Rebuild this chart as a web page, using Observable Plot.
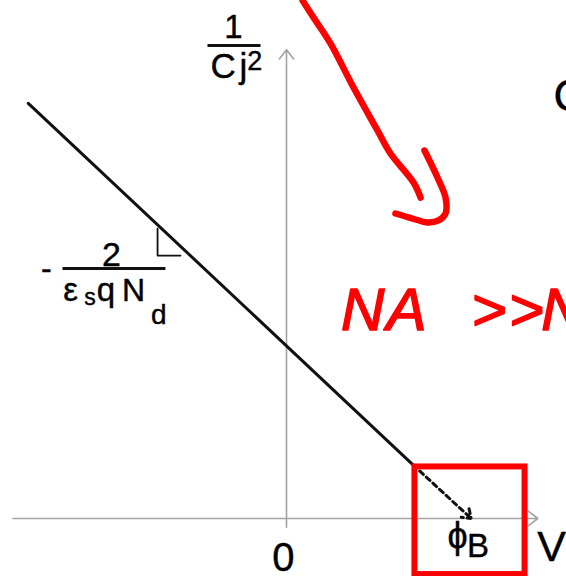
<!DOCTYPE html>
<html>
<head>
<meta charset="utf-8">
<script src="https://cdn.jsdelivr.net/npm/d3@7"></script>
<script src="https://cdn.jsdelivr.net/npm/@observablehq/plot@0.6"></script>
<style>
  html, body { margin: 0; padding: 0; background: #fff; overflow: hidden; }
</style>
</head>
<body>
<div id="chart"></div>
<script>
// 1/Cj² versus applied bias V for a Schottky diode (units: V in φB, 1/Cj² normalised to its V = 0 value)

// Straight-line part of 1/Cj²(V) (measured region)
const solidV = [-1.51, 0.74];
const solidY = [2.40, 0.31];
// Extrapolation down to the V axis, intercept at the barrier voltage
const dashV = [0.74, 1.08];
const dashY = [0.31, 0.0];

// Axes (with arrowheads)
const axisV = [-1.60, 1.47];
const axisY = [-0.05, 2.71];

// Slope marker drawn under the line
const slopeV = [-0.754, -0.754, -0.620];
const slopeY = [1.676, 1.520, 1.520];

// Fraction bars of the two formula labels
const barsX1 = [-0.462, -1.310];
const barsX2 = [-0.152, -0.708];
const barsY = [2.734, 1.445];

// Text labels: text, V, 1/Cj² (baseline), size, anchor
const labelText = ["1", "C", "j", "2", "-", "2", "ε", "s", "q", "N", "d", "0", "ϕ", "B", "V", "C"];
const labelV    = [-0.310, -0.445, -0.275, -0.230, -1.404, -1.023, -1.306, -1.183, -1.109, -0.962, -0.792, -0.018, 1.000, 1.056, 1.466, 1.561];
const labelY    = [2.775, 2.549, 2.549, 2.590, 1.387, 1.462, 1.260, 1.232, 1.260, 1.260, 1.127, -0.306, -0.173, -0.225, -0.243, 2.358];
const labelSize = [33, 35, 35, 27, 32, 34, 33, 23, 33, 32, 28, 40, 36, 33, 43, 44];
const labelAnchor = ["middle", "start", "start", "start", "middle", "middle", "start", "start", "start", "start", "start", "middle", "middle", "start", "start", "start"];

// Hand-drawn red annotations
const redArrowV = [0.094, 0.158, 0.257, 0.392, 0.532, 0.608, 0.743, 0.784];
const redArrowY = [2.994, 2.896, 2.746, 2.491, 2.243, 2.110, 1.942, 1.855];
const redHookV = [0.807, 0.883, 0.930, 0.930, 0.889, 0.825, 0.737, 0.637];
const redHookY = [2.127, 1.971, 1.855, 1.763, 1.723, 1.711, 1.734, 1.763];
const redBox = {x1: 0.751, x2: 1.395, y1: -0.324, y2: 0.298};
const noteChars = ["N", "A", ">", ">", "N"];
const noteV = [0.318, 0.585, 1.080, 1.300, 1.490];
const noteY = 1.087;

const pts = (xs, ys) => xs.map((x, i) => ({x, y: ys[i]}));

const labels = labelText.map((t, i) => ({
  t, x: labelV[i], y: labelY[i], size: labelSize[i], anchor: labelAnchor[i]
}));

const font = "'Liberation Sans', Arial, sans-serif";
const textMarks = labels.map(d => Plot.text([d], {
  x: "x", y: "y", text: "t",
  fontSize: d.size, textAnchor: d.anchor, lineAnchor: "bottom",
  fontFamily: font, fill: "#000", stroke: "#000", strokeWidth: 0.4
}));

const plot = Plot.plot({
  width: 566,
  height: 576,
  margin: 0,
  x: {domain: [-286 / 171, 280 / 171], axis: null},
  y: {domain: [-58 / 173, 518 / 173], axis: null},
  style: {background: "#fff"},
  marks: [
    // axes
    Plot.arrow([{x1: axisV[0], x2: axisV[1], y1: 0, y2: 0}], {
      x1: "x1", x2: "x2", y1: "y1", y2: "y2",
      stroke: "#a4a4a4", strokeWidth: 1.6, headLength: 11, headAngle: 75
    }),
    Plot.arrow([{x1: 0, x2: 0, y1: axisY[0], y2: axisY[1]}], {
      x1: "x1", x2: "x2", y1: "y1", y2: "y2",
      stroke: "#a4a4a4", strokeWidth: 1.6, headLength: 11, headAngle: 75
    }),
    // characteristic
    Plot.line(pts(solidV, solidY), {x: "x", y: "y", stroke: "#111", strokeWidth: 3}),
    Plot.arrow([{x1: dashV[0], y1: dashY[0], x2: dashV[1], y2: dashY[1]}], {
      x1: "x1", y1: "y1", x2: "x2", y2: "y2",
      stroke: "#111", strokeWidth: 3, strokeDasharray: "5,4", headLength: 5, headAngle: 70
    }),
    Plot.line(pts(slopeV, slopeY), {x: "x", y: "y", stroke: "#111", strokeWidth: 1.8}),
    // fraction bars
    Plot.link(barsX1.map((x1, i) => ({x1, x2: barsX2[i], y: barsY[i]})), {
      x1: "x1", x2: "x2", y1: "y", y2: "y", stroke: "#111", strokeWidth: 2.8
    }),
    ...textMarks,
    // red annotations
    Plot.line(pts(redArrowV, redArrowY), {
      x: "x", y: "y", curve: "catmull-rom", stroke: "#ff0000", strokeWidth: 6.5,
      strokeLinecap: "round", strokeLinejoin: "round"
    }),
    Plot.line(pts(redHookV, redHookY), {
      x: "x", y: "y", curve: "catmull-rom", stroke: "#ff0000", strokeWidth: 6.5,
      strokeLinecap: "round", strokeLinejoin: "round"
    }),
    Plot.rect([redBox], {
      x1: "x1", x2: "x2", y1: "y1", y2: "y2", fill: "none", stroke: "#ff0000", strokeWidth: 6
    }),
    Plot.text(noteChars.map((c, i) => ({c, x: noteV[i], y: noteY})), {
      x: "x", y: "y", text: "c", textAnchor: "start", lineAnchor: "bottom",
      fontSize: 60, fontStyle: "italic", fontFamily: font,
      fill: "#ff0000", stroke: "#ff0000", strokeWidth: 1.5, strokeLinejoin: "round"
    })
  ]
});

document.getElementById("chart").appendChild(plot);
</script>
</body>
</html>
